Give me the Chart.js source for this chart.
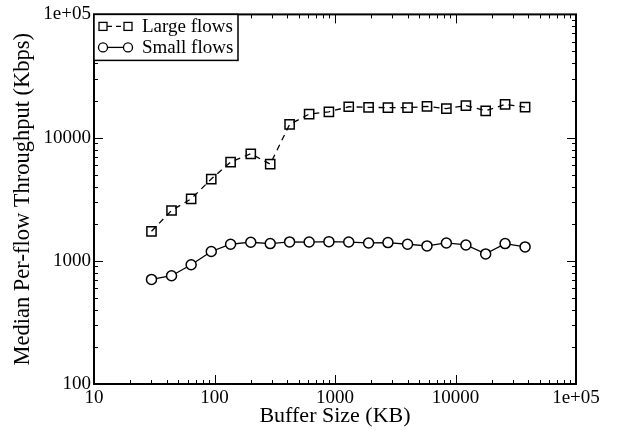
<!DOCTYPE html>
<html>
<head>
<meta charset="utf-8">
<script src="https://cdn.jsdelivr.net/npm/chart.js@4"></script>
<style>
html,body{margin:0;padding:0;background:#fff;}
#wrap{width:620px;height:433px;position:relative;}
</style>
</head>
<body>
<div id="wrap"><canvas id="c" width="620" height="433"></canvas></div>
<script>
// ---- data ----
const bufferKB   = [30, 44, 64, 94, 136, 200, 290, 420, 610, 890, 1300, 1900, 2750, 4000, 5800, 8400, 12200, 17800, 25800, 37800];
const largeFlows = [1735, 2560, 3180, 4610, 6320, 7390, 6090, 12800, 15500, 16200, 17800, 17600, 17500, 17500, 17900, 17200, 18200, 16500, 18600, 17700];
const smallFlows = [706, 757, 929, 1190, 1363, 1415, 1379, 1424, 1420, 1431, 1420, 1396, 1405, 1363, 1321, 1396, 1345, 1138, 1379, 1297];
const seriesNames = ['Large flows', 'Small flows'];
const xTickValues = [10, 100, 1000, 10000, 100000];
const xTickLabels = ['10', '100', '1000', '10000', '1e+05'];
const yTickValues = [100, 1000, 10000, 100000];
const yTickLabels = ['100', '1000', '10000', '1e+05'];
const xTitle = 'Buffer Size (KB)';
const yTitle = 'Median Per-flow Throughput (Kbps)';

const FONT = '"Liberation Serif", "Times New Roman", serif';

const toPts = (xs, ys) => xs.map((x, i) => ({x: x, y: ys[i]}));

function minorVals(min, max) {
  const out = [];
  for (let d = min; d < max; d *= 10) {
    for (let k = 1; k <= 9; k++) {
      const v = d * k;
      if (v >= min && v <= max) out.push({v: v, major: k === 1});
    }
  }
  out.push({v: max, major: true});
  return out;
}

const framePlugin = {
  id: 'frame',
  afterDatasetsDraw(chart) {
    const ctx = chart.ctx;
    const a = chart.chartArea;
    const xs = chart.scales.x, ys = chart.scales.y;
    ctx.save();
    ctx.strokeStyle = '#000';
    ctx.lineWidth = 1;
    ctx.beginPath();
    minorVals(10, 100000).forEach(t => {
      const px = Math.round(xs.getPixelForValue(t.v)) + 0.5;
      const L = t.major ? 9 : 4;
      ctx.moveTo(px, a.bottom); ctx.lineTo(px, a.bottom - L);
      ctx.moveTo(px, a.top); ctx.lineTo(px, a.top + L);
    });
    minorVals(100, 100000).forEach(t => {
      const py = Math.round(ys.getPixelForValue(t.v)) + 0.5;
      const L = t.major ? 9 : 4;
      ctx.moveTo(a.left, py); ctx.lineTo(a.left + L, py);
      ctx.moveTo(a.right, py); ctx.lineTo(a.right - L, py);
    });
    ctx.stroke();
    ctx.lineWidth = 2;
    ctx.strokeRect(a.left, a.top, a.right - a.left, a.bottom - a.top);
    ctx.restore();
  },
  afterDraw(chart) {
    const ctx = chart.ctx;
    const a = chart.chartArea;
    ctx.save();
    const bx = a.left, by = a.top, bw = 144, bh = 46;
    ctx.fillStyle = '#fff';
    ctx.fillRect(bx, by, bw, bh);
    ctx.strokeStyle = '#000';
    ctx.lineWidth = 1.5;
    ctx.strokeRect(bx, by, bw, bh);
    const rows = [by + 12, by + 33];
    const m1 = bx + 9, m2 = bx + 34;
    // row 1: squares with dashed line
    ctx.lineWidth = 1.3;
    ctx.setLineDash([5, 4]);
    ctx.beginPath(); ctx.moveTo(m1 + 4, rows[0]); ctx.lineTo(m2 - 4, rows[0]); ctx.stroke();
    ctx.setLineDash([]);
    [m1, m2].forEach(cx => { ctx.strokeRect(cx - 4, rows[0] - 4, 8, 8); });
    // row 2: circles with solid line
    ctx.beginPath(); ctx.moveTo(m1, rows[1]); ctx.lineTo(m2, rows[1]); ctx.stroke();
    [m1, m2].forEach(cx => {
      ctx.beginPath(); ctx.arc(cx, rows[1], 4.5, 0, Math.PI * 2);
      ctx.fillStyle = '#fff'; ctx.fill(); ctx.stroke();
    });
    ctx.fillStyle = '#000';
    ctx.font = '19px ' + FONT;
    ctx.textBaseline = 'middle';
    ctx.textAlign = 'left';
    ctx.fillText(seriesNames[0], bx + 48, rows[0] + 1);
    ctx.fillText(seriesNames[1], bx + 48, rows[1] + 1);
    ctx.restore();
  }
};

new Chart(document.getElementById('c'), {
  type: 'scatter',
  data: {
    datasets: [
      {
        label: seriesNames[0],
        data: toPts(bufferKB, largeFlows),
        showLine: true,
        borderColor: '#000',
        borderWidth: 1.3,
        borderDash: [6, 5],
        pointStyle: 'rect',
        pointRadius: 6.5,
        pointBorderWidth: 1.5,
        pointBackgroundColor: 'rgba(0,0,0,0)',
        pointBorderColor: '#000'
      },
      {
        label: seriesNames[1],
        data: toPts(bufferKB, smallFlows),
        showLine: true,
        borderColor: '#000',
        borderWidth: 1.3,
        pointStyle: 'circle',
        pointRadius: 5,
        pointBorderWidth: 1.5,
        pointBackgroundColor: '#fff',
        pointBorderColor: '#000'
      }
    ]
  },
  options: {
    responsive: false,
    animation: false,
    devicePixelRatio: 1,
    layout: {padding: {top: 12, right: 44, left: 0, bottom: 0}},
    plugins: {legend: {display: false}, tooltip: {enabled: false}},
    scales: {
      x: {
        type: 'logarithmic',
        min: 10, max: 100000,
        afterFit(s) { s.height = 49; },
        afterBuildTicks(s) { s.ticks = xTickValues.map(v => ({value: v, major: true})); },
        grid: {display: false, drawTicks: false},
        border: {display: false},
        ticks: {
          autoSkip: false, maxRotation: 0, padding: 3, color: '#000',
          font: {family: FONT, size: 19},
          callback: (v) => { const i = xTickValues.indexOf(v); return i >= 0 ? xTickLabels[i] : ''; }
        },
        title: {display: true, text: xTitle, color: '#000', font: {family: FONT, size: 22}, padding: {top: 0, bottom: 4}}
      },
      y: {
        type: 'logarithmic',
        min: 100, max: 100000,
        afterFit(s) { s.width = 94; },
        afterBuildTicks(s) { s.ticks = yTickValues.map(v => ({value: v, major: true})); },
        grid: {display: false, drawTicks: false},
        border: {display: false},
        ticks: {
          autoSkip: false, padding: 3, color: '#000',
          font: {family: FONT, size: 19},
          callback: (v) => { const i = yTickValues.indexOf(v); return i >= 0 ? yTickLabels[i] : ''; }
        },
        title: {display: true, text: yTitle, color: '#000', font: {family: FONT, size: 22.5}, padding: {top: 10, bottom: 0}}
      }
    }
  },
  plugins: [framePlugin]
});
</script>
</body>
</html>
